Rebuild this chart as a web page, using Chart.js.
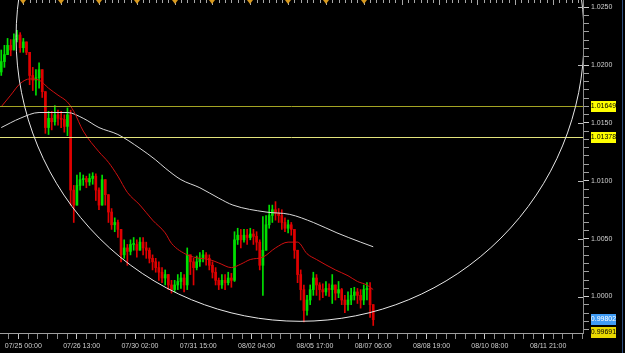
<!DOCTYPE html>
<html>
<head>
<meta charset="utf-8">
<script src="https://cdn.jsdelivr.net/npm/chart.js@4.4.1/dist/chart.umd.min.js"></script>
<style>
  html, body { margin: 0; padding: 0; background: #000; }
  #chart { display: block; }
</style>
</head>
<body>
<canvas id="chart" width="625" height="353"></canvas>
<script>
// Hourly bar index: 0 = 07/25 00:00 (weekends skipped). One candle every 2 bars.
const firstBar = -14;
const barStep = 2;
const firstOpen = 1.0194;

const closes = [
  1.0203, 1.0209, 1.0217, 1.0213, 1.0222, 1.0226, 1.0215, 1.0220, 1.0211, 1.0191,
  1.0187, 1.0189, 1.0196, 1.0177, 1.0146, 1.0154, 1.0151, 1.0157, 1.0154, 1.0153,
  1.0147, 1.0157, 1.0092, 1.0079, 1.0096, 1.0101, 1.0102, 1.0099, 1.0102, 1.0104,
  1.0092, 1.0079, 1.0101, 1.0088, 1.0073, 1.0062, 1.0064, 1.0058, 1.0036, 1.0042,
  1.0039, 1.0045, 1.0045, 1.0040, 1.0047, 1.0042, 1.0040, 1.0033, 1.0030, 1.0025,
  1.0021, 1.0016, 1.0019, 1.0010, 1.0006, 1.0010, 1.0013, 1.0016, 1.0010, 1.0036,
  1.0030, 1.0025, 1.0030, 1.0033, 1.0036, 1.0033, 1.0027, 1.0021, 1.0014, 1.0010,
  1.0014, 1.0012, 1.0016, 1.0014, 1.0049, 1.0053, 1.0049, 1.0053, 1.0051, 1.0054,
  1.0052, 1.0047, 1.0027, 1.0040, 1.0062, 1.0070, 1.0075, 1.0072, 1.0070, 1.0064,
  1.0059, 1.0062, 1.0058, 1.0040, 1.0019, 1.0006, 0.9988, 0.9997, 1.0006, 1.0016,
  1.0010, 1.0006, 1.0004, 1.0007, 1.0006, 1.0010, 1.0003, 1.0006, 0.9997, 0.9993,
  0.9997, 1.0001, 1.0004, 1.0001, 0.9997, 1.0006, 1.0007, 0.9993, 0.9980
];
const highs = [
  1.0213, 1.0217, 1.0223, 1.0222, 1.0227, 1.0230, 1.0228, 1.0223, 1.0217, 1.0209,
  1.0198, 1.0196, 1.0202, 1.0194, 1.0176, 1.0160, 1.0160, 1.0165, 1.0161, 1.0160,
  1.0157, 1.0163, 1.0161, 1.0096, 1.0105, 1.0107, 1.0105, 1.0104, 1.0106, 1.0107,
  1.0106, 1.0094, 1.0105, 1.0101, 1.0083, 1.0076, 1.0068, 1.0066, 1.0056, 1.0049,
  1.0045, 1.0049, 1.0051, 1.0049, 1.0051, 1.0051, 1.0047, 1.0042, 1.0036, 1.0033,
  1.0030, 1.0025, 1.0023, 1.0019, 1.0014, 1.0014, 1.0019, 1.0021, 1.0019, 1.0042,
  1.0036, 1.0033, 1.0035, 1.0038, 1.0040, 1.0038, 1.0036, 1.0030, 1.0025, 1.0016,
  1.0019, 1.0019, 1.0021, 1.0020, 1.0056, 1.0059, 1.0058, 1.0058, 1.0058, 1.0059,
  1.0058, 1.0056, 1.0049, 1.0069, 1.0070, 1.0079, 1.0079, 1.0082, 1.0076, 1.0075,
  1.0068, 1.0066, 1.0064, 1.0058, 1.0040, 1.0023, 1.0010, 1.0001, 1.0010, 1.0021,
  1.0019, 1.0012, 1.0011, 1.0013, 1.0011, 1.0019, 1.0010, 1.0013, 1.0007, 1.0001,
  1.0004, 1.0007, 1.0008, 1.0007, 1.0006, 1.0010, 1.0012, 1.0012, 0.9993
];
const lows = [
  1.0191, 1.0198, 1.0209, 1.0208, 1.0213, 1.0220, 1.0211, 1.0211, 1.0209, 1.0183,
  1.0178, 1.0174, 1.0180, 1.0172, 1.0141, 1.0140, 1.0144, 1.0148, 1.0148, 1.0146,
  1.0142, 1.0139, 1.0079, 1.0064, 1.0083, 1.0092, 1.0096, 1.0094, 1.0096, 1.0097,
  1.0083, 1.0075, 1.0079, 1.0079, 1.0064, 1.0058, 1.0056, 1.0051, 1.0030, 1.0033,
  1.0027, 1.0036, 1.0040, 1.0034, 1.0040, 1.0036, 1.0033, 1.0029, 1.0023, 1.0021,
  1.0014, 1.0012, 1.0010, 1.0006, 1.0003, 1.0004, 1.0006, 1.0007, 1.0004, 1.0006,
  1.0019, 1.0010, 1.0023, 1.0026, 1.0030, 1.0027, 1.0023, 1.0016, 1.0010, 1.0006,
  1.0007, 1.0006, 1.0010, 1.0008, 1.0013, 1.0045, 1.0042, 1.0047, 1.0045, 1.0049,
  1.0045, 1.0040, 1.0023, 1.0001, 1.0049, 1.0059, 1.0064, 1.0066, 1.0064, 1.0058,
  1.0056, 1.0055, 1.0053, 1.0033, 1.0012, 0.9997, 0.9978, 0.9984, 0.9993, 1.0001,
  1.0001, 0.9997, 0.9999, 1.0001, 1.0000, 0.9994, 0.9997, 0.9999, 0.9993, 0.9986,
  0.9988, 0.9993, 0.9997, 0.9994, 0.9990, 0.9993, 0.9997, 0.9982, 0.9975
];

// moving averages (bar index, price)
const maFastX = [-14, -8, -2, 4, 10, 16, 22, 28, 32, 38, 48, 54, 60, 66, 74, 82, 90, 94, 104, 112,
  118, 124, 132, 138, 144, 152, 160, 168, 174, 180, 186, 198, 206, 212, 218, 222];
const maFastY = [1.0164, 1.0174, 1.0184, 1.0188, 1.0187, 1.0180, 1.0174, 1.0168, 1.0160, 1.0143,
  1.0125, 1.0116, 1.0104, 1.0090, 1.0079, 1.0066, 1.0055, 1.0046, 1.0036, 1.0033,
  1.0032, 1.0029, 1.0025, 1.0028, 1.0032, 1.0034, 1.0042, 1.0047, 1.0047, 1.0037,
  1.0032, 1.0023, 1.0018, 1.0013, 1.0010, 1.0006];
const maSlowX = [-14, -2, 10, 28, 38, 48, 60, 74, 84, 90, 100, 112, 124, 133, 154, 169, 184, 199, 214, 222];
const maSlowY = [1.0146, 1.0154, 1.0159, 1.0159, 1.0154, 1.0146, 1.0140, 1.0128, 1.0118, 1.0111,
  1.0101, 1.0094, 1.0085, 1.0079, 1.0073, 1.0071, 1.0064, 1.0055, 1.0047, 1.0043];

// axes
const xMin = -14.8;
const xMax = 355.1;
const yMin = 0.99685;
const yMax = 1.02562;
const timeTicks = [0, 37, 74, 111, 148, 185, 222, 259, 296, 333];
const timeLabels = ["07/25 00:00", "07/26 13:00", "07/30 02:00", "07/31 15:00", "08/02 04:00",
  "08/05 17:00", "08/07 06:00", "08/08 19:00", "08/10 08:00", "08/11 21:00"];
const priceLabels = [1.0000, 1.0050, 1.0100, 1.0150, 1.0200, 1.0250];

// chart objects
const levels = [1.01649, 1.01378];
const tagValues = [1.01649, 1.01378, 0.99802, 0.99691];
const ellipseCenter = [175.6, 1.0224];
const ellipseRadius = [180.2, 0.02454];

const levelColors = ["#a4a424", "#e4e47c"];
const tagColors = ["#ffff00", "#ffff00", "#3f9cf5", "#e8d800"];
const tagText = ["#000", "#000", "#fff", "#000"];
const UP = "#00e000";
const DOWN = "#e00000";

const candles = closes.map((c, i) => {
  const o = i === 0 ? firstOpen : closes[i - 1];
  return {
    x: firstBar + i * barStep,
    o: o,
    c: c,
    h: Math.max(highs[i], o, c),
    l: Math.min(lows[i], o, c),
  };
});
const candleColors = candles.map((k) => (k.c >= k.o ? UP : DOWN));

const FONT = "'Liberation Sans', Arial, sans-serif";

const chartObjects = {
  id: "chartObjects",
  beforeDraw(chart) {
    const ctx = chart.ctx;
    ctx.save();
    ctx.fillStyle = "#000";
    ctx.fillRect(0, 0, chart.width, chart.height);
    ctx.restore();
  },
  afterDatasetsDraw(chart) {
    const { ctx, chartArea: a } = chart;
    const xs = chart.scales.x;
    const ys = chart.scales.y;
    ctx.save();
    ctx.beginPath();
    ctx.rect(a.left, a.top, a.right - a.left, a.bottom - a.top);
    ctx.clip();

    // horizontal levels
    levels.forEach((v, i) => {
      const y = Math.round(ys.getPixelForValue(v)) + 0.5;
      ctx.strokeStyle = levelColors[i];
      ctx.lineWidth = 1;
      ctx.beginPath();
      ctx.moveTo(a.left, y);
      ctx.lineTo(a.right, y);
      ctx.stroke();
    });

    // ellipse object
    const cx = xs.getPixelForValue(ellipseCenter[0]);
    const cy = ys.getPixelForValue(ellipseCenter[1]);
    const rx = Math.abs(xs.getPixelForValue(ellipseCenter[0] + ellipseRadius[0]) - cx);
    const ry = Math.abs(ys.getPixelForValue(ellipseCenter[1] - ellipseRadius[1]) - cy);
    ctx.strokeStyle = "#e8e8e8";
    ctx.lineWidth = 1;
    ctx.beginPath();
    ctx.ellipse(cx, cy, rx, ry, 0, 0, Math.PI * 2);
    ctx.stroke();
    ctx.restore();
  },
  afterDraw(chart) {
    const { ctx, chartArea: a } = chart;
    const xs = chart.scales.x;
    const ys = chart.scales.y;
    ctx.save();

    // long ticks at the price labels cross the axis line
    ctx.strokeStyle = "#bdbdbd";
    ctx.lineWidth = 1;
    priceLabels.forEach((v) => {
      const y = Math.round(ys.getPixelForValue(v)) + 0.5;
      ctx.beginPath();
      ctx.moveTo(a.right - 5, y);
      ctx.lineTo(a.right, y);
      ctx.stroke();
    });

    // top time ruler
    ctx.strokeStyle = "#a8a8a8";
    for (let u = 0; u <= xMax; u += 4) {
      const x = Math.round(xs.getPixelForValue(u)) + 0.5;
      ctx.beginPath();
      ctx.moveTo(x, 0);
      ctx.lineTo(x, u % 24 === 0 ? 5 : 3);
      ctx.stroke();
    }
    // day separators
    ctx.fillStyle = "#d99a1e";
    for (let u = 0; u <= candles[candles.length - 1].x; u += 24) {
      const x = Math.round(xs.getPixelForValue(u));
      ctx.beginPath();
      ctx.moveTo(x - 3, 0);
      ctx.lineTo(x + 3, 0);
      ctx.lineTo(x, 4);
      ctx.closePath();
      ctx.fill();
    }

    // price tags
    ctx.font = "7px " + FONT;
    ctx.textAlign = "center";
    ctx.textBaseline = "middle";
    tagValues.forEach((v, i) => {
      const y = Math.round(ys.getPixelForValue(v));
      ctx.fillStyle = tagColors[i];
      ctx.fillRect(a.right + 8, y - 5, 25, 11);
      ctx.fillStyle = tagText[i];
      ctx.fillText(v.toFixed(5), a.right + 20.5, y + 0.5);
    });

    // right frame
    ctx.strokeStyle = "#2f4f80";
    ctx.beginPath();
    ctx.moveTo(622.5, 0);
    ctx.lineTo(622.5, chart.height);
    ctx.stroke();
    ctx.restore();
  },
};

const xTickValues = [];
for (let i = -3; i <= 58; i++) {
  const v = (i * 37) / 6;
  if (v >= xMin && v <= xMax) xTickValues.push(v);
}
const yStep = 0.005 / 7;
const yTickValues = [];
for (let j = 0; j <= 7 * 7; j++) {
  const v = 0.995 + j * yStep;
  if (v >= yMin && v <= yMax) yTickValues.push(v);
}
const isMajorPrice = (v) => Math.abs(v * 200 - Math.round(v * 200)) < 1e-6;

new Chart(document.getElementById("chart"), {
  type: "bar",
  data: {
    datasets: [
      {
        type: "line",
        data: maFastX.map((x, i) => ({ x: x, y: maFastY[i] })),
        borderColor: "#d01010",
        borderWidth: 1,
        pointRadius: 0,
        cubicInterpolationMode: "monotone",
        order: 0,
      },
      {
        type: "line",
        data: maSlowX.map((x, i) => ({ x: x, y: maSlowY[i] })),
        borderColor: "#d8d8d8",
        borderWidth: 1,
        pointRadius: 0,
        cubicInterpolationMode: "monotone",
        order: 0,
      },
      {
        // candle bodies
        data: candles.map((k) => ({ x: k.x, y: [k.o, k.c] })),
        backgroundColor: candleColors,
        barThickness: 2,
        minBarLength: 1,
        grouped: false,
        order: 1,
      },
      {
        // wicks
        data: candles.map((k) => ({ x: k.x, y: [k.l, k.h] })),
        backgroundColor: candleColors,
        barThickness: 1,
        grouped: false,
        order: 2,
      },
    ],
  },
  options: {
    responsive: false,
    animation: false,
    devicePixelRatio: 1,
    layout: { padding: 0 },
    plugins: {
      legend: { display: false },
      tooltip: { enabled: false },
    },
    scales: {
      x: {
        type: "linear",
        min: xMin,
        max: xMax,
        offset: false,
        afterBuildTicks: (scale) => {
          scale.ticks = xTickValues.map((v) => ({ value: v }));
        },
        afterFit: (scale) => {
          scale.height = 20;
          scale.paddingLeft = 0;
          scale.paddingRight = 0;
        },
        grid: {
          drawOnChartArea: false,
          drawTicks: true,
          tickLength: 6,
          tickColor: (ctx) =>
            ctx.tick && timeTicks.indexOf(ctx.tick.value) >= 0 ? "#c8c8c8" : "#8a8a8a",
        },
        border: { display: true, color: "#a0a0a0", dash: [1, 2] },
        ticks: {
          autoSkip: false,
          maxRotation: 0,
          padding: 3,
          color: "#cfcfcf",
          font: { family: FONT, size: 7 },
          callback: (value) => {
            const j = timeTicks.indexOf(value);
            return j >= 0 ? timeLabels[j] : "";
          },
        },
      },
      y: {
        position: "right",
        min: yMin,
        max: yMax,
        afterBuildTicks: (scale) => {
          scale.ticks = yTickValues.map((v) => ({ value: v }));
        },
        afterFit: (scale) => {
          scale.width = 42;
          scale.paddingTop = 0;
          scale.paddingBottom = 0;
        },
        grid: {
          drawOnChartArea: false,
          drawTicks: true,
          tickLength: 6,
          tickColor: (ctx) => (ctx.tick && isMajorPrice(ctx.tick.value) ? "#d0d0d0" : "#a0a0a0"),
        },
        border: { display: true, color: "#8c8c8c" },
        ticks: {
          autoSkip: false,
          padding: 2,
          color: "#d0d0d0",
          font: { family: FONT, size: 7 },
          callback: (value) => (isMajorPrice(value) ? value.toFixed(4) : ""),
        },
      },
    },
  },
  plugins: [chartObjects],
});
</script>
</body>
</html>
